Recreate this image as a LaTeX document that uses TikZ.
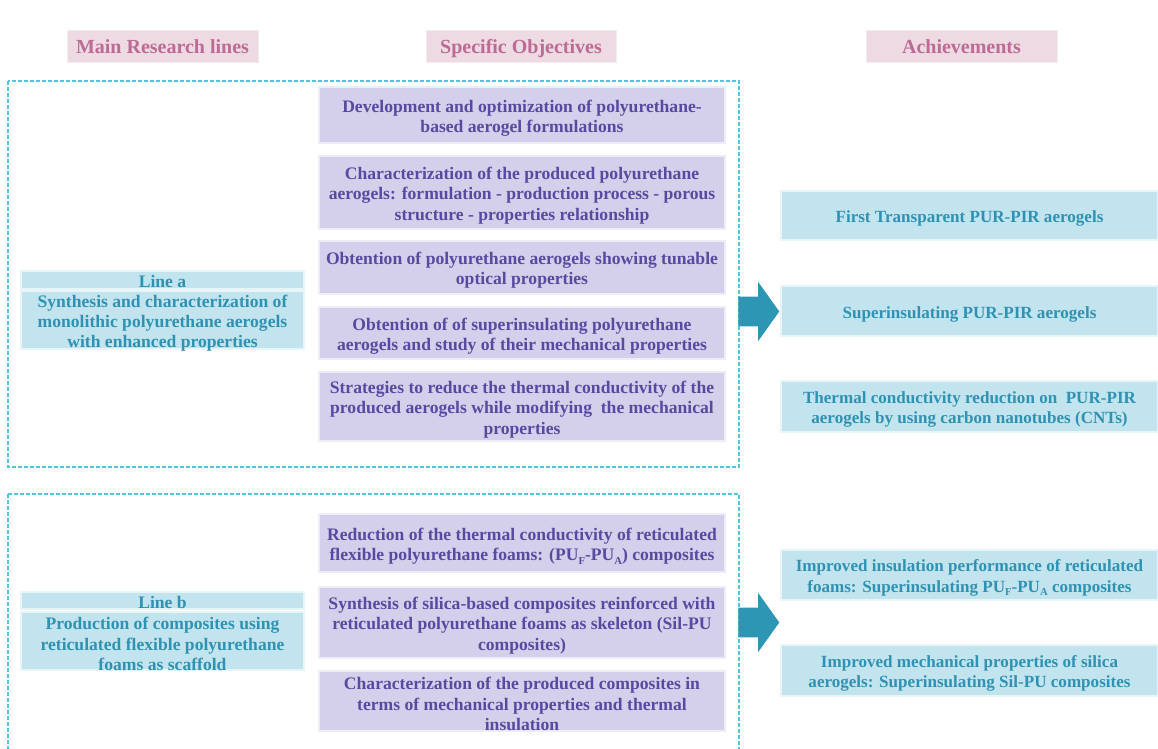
\documentclass[tikz,border=0pt]{standalone}
\usepackage{fontspec}
\setmainfont{Liberation Serif}
\usetikzlibrary{shapes.arrows}
\definecolor{pinkfill}{RGB}{238,218,226}
\definecolor{pinktext}{RGB}{188,108,148}
\definecolor{objfill}{RGB}{212,208,235}
\definecolor{objtext}{RGB}{88,74,160}
\definecolor{linefill}{RGB}{194,228,238}
\definecolor{linetext}{RGB}{48,146,178}
\definecolor{arrowc}{RGB}{46,150,181}
\definecolor{dashc}{RGB}{82,196,222}
% small lowered index, as in PU_F
\newcommand\lowidx[1]{\raisebox{-0.45ex}{\fontsize{8}{8}\selectfont #1}}
% place a box given its corner coordinates (px), with its text slightly lowered
\newcommand\placebox[8][3]{%
  \node[#3, minimum width={(#6-#4)*0.75pt}, minimum height={(#7-#5)*0.75pt}] (#2) at ({(#4+#6)/2},{(#5+#7)/2}) {};
  \node[#3 text] (#2-t) at ([yshift={-#1*0.75pt}]#2.center) {#8};}
\begin{document}
\begin{tikzpicture}[x=0.75pt,y=-0.75pt,
  basetext/.style={rectangle, inner sep=0pt, align=center, font=\bfseries\fontsize{13.2}{15.2}\selectfont},
  header/.style={rectangle, fill=pinkfill, draw=pinkfill!50!white, line width=0.6pt},
  header text/.style={basetext, text=pinktext, font=\bfseries\fontsize{15}{17}\selectfont, text height=10.5pt, text depth=3.2pt},
  objbox/.style={rectangle, fill=objfill, draw=objfill!40!white, line width=0.8pt},
  objbox text/.style={basetext, text=objtext},
  linebox/.style={rectangle, fill=linefill, draw=linefill!40!white, line width=0.8pt},
  linebox text/.style={basetext, text=linetext},
  achbox/.style={linebox},
  achbox text/.style={basetext, text=linetext, font=\bfseries\fontsize{12.8}{15.2}\selectfont},
  group/.style={draw=dashc, line width=1.2pt, dash pattern=on 3pt off 1.5pt},
  bigarrow/.style={single arrow, fill=arrowc, draw=none, inner sep=0pt, inner ysep=14.5*0.75pt,
    minimum height=41*0.75pt, single arrow head extend=15*0.75pt, single arrow tip angle=109}]
\useasboundingbox (0,0) rectangle (1158,749);

% column headers
\placebox[2.5]{h1}{header}{67}{30}{258}{62}{Main Research lines}
\placebox[2.5]{h2}{header}{426}{30}{616}{62}{Specific Objectives}
\placebox[2.5]{h3}{header}{866}{30}{1057}{62}{Achievements}

% research line groups
\draw[group] (8,81) rectangle (739,467);
\draw[group] (8,494) rectangle (739,770);

% line a
\placebox[1.5]{la}{linebox}{21}{271}{304}{289}{Line a}
\placebox{lat}{linebox}{21}{291}{304}{349}{Synthesis and characterization of\\monolithic polyurethane aerogels\\with enhanced properties}

% line b
\placebox[1.5]{lb}{linebox}{21}{592}{304}{609}{Line b}
\placebox{lbt}{linebox}{21}{612}{304}{670}{Production of composites using\\reticulated flexible polyurethane\\foams as scaffold}

% objectives of line a
\placebox{o1}{objbox}{319}{87}{725}{143}{Development and optimization of polyurethane-\\based aerogel formulations}
\placebox{o2}{objbox}{319}{156}{725}{229}{Characterization of the produced polyurethane\\aerogels: formulation - production process - porous\\structure - properties relationship}
\placebox{o3}{objbox}{319}{241}{725}{294}{Obtention of polyurethane aerogels showing tunable\\optical properties}
\placebox{o4}{objbox}{319}{307}{725}{359}{Obtention of of superinsulating polyurethane\\aerogels and study of their mechanical properties}
\placebox{o5}{objbox}{319}{372}{725}{441}{Strategies to reduce the thermal conductivity of the\\produced aerogels while modifying\ \ the mechanical\\properties}

% objectives of line b
\placebox{o6}{objbox}{319}{514}{725}{572}{Reduction of the thermal conductivity of reticulated\\flexible polyurethane foams: (PU\lowidx{F}-PU\lowidx{A}) composites}
\placebox{o7}{objbox}{319}{587}{725}{658}{Synthesis of silica-based composites reinforced with\\reticulated polyurethane foams as skeleton (Sil-PU\\composites)}
\placebox{o8}{objbox}{319}{671}{725}{731}{Characterization of the produced composites in\\terms of mechanical properties and thermal\\insulation}

% achievements
\placebox{a1}{achbox}{781}{191}{1158}{240}{First Transparent PUR-PIR aerogels}
\placebox{a2}{achbox}{781}{286}{1158}{336}{Superinsulating PUR-PIR aerogels}
\placebox{a3}{achbox}{781}{381}{1158}{432}{Thermal conductivity reduction on\ \ PUR-PIR\\aerogels by using carbon nanotubes (CNTs)}
\placebox{a4}{achbox}{781}{550}{1158}{600}{Improved insulation performance of reticulated\\foams: Superinsulating PU\lowidx{F}-PU\lowidx{A} composites}
\placebox{a5}{achbox}{781}{645}{1158}{696}{Improved mechanical properties of silica\\aerogels: Superinsulating Sil-PU composites}

% block arrows from objectives to achievements
\node[bigarrow] (arA) at (753.5,311.5) {};
\node[bigarrow] (arB) at (753.5,622.5) {};
\end{tikzpicture}
\end{document}
